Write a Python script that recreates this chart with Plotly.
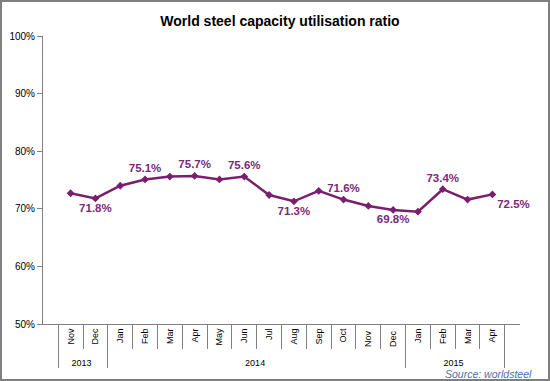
import plotly.graph_objects as go

years = ["2013", "2013"] + ["2014"] * 12 + ["2015"] * 4
months = ["Nov", "Dec", "Jan", "Feb", "Mar", "Apr", "May", "Jun", "Jul", "Aug",
          "Sep", "Oct", "Nov ", "Dec ", "Jan", "Feb", "Mar", "Apr"]
values = [72.7, 71.8, 74.0, 75.1, 75.6, 75.7, 75.1, 75.6, 72.4, 71.3,
          73.1, 71.6, 70.5, 69.8, 69.5, 73.4, 71.6, 72.5]
labels = ["", "71.8%", "", "75.1%", "", "75.7%", "", "75.6%", "", "71.3%",
          "", "71.6%", "", "69.8%", "", "73.4%", "", "72.5%"]
label_pos = ["top center", "bottom center", "top center", "top center", "top center",
             "top center", "top center", "top center", "top center", "bottom center",
             "top center", "top center", "top center", "bottom center", "top center",
             "top center", "top center", "bottom right"]
y_ticks = [50, 60, 70, 80, 90, 100]
y_tick_text = ["50%", "60%", "70%", "80%", "90%", "100%"]

purple = "#7A1F6E"

fig = go.Figure()
fig.add_trace(go.Scatter(
    x=[years, months], y=values,
    mode="lines+markers+text",
    line=dict(color=purple, width=2.5),
    marker=dict(symbol="diamond", size=6, color=purple),
    text=labels, textposition=label_pos,
    textfont=dict(family="Liberation Sans, Arial", size=11.5, color="#7A2A7A", weight="bold"),
    cliponaxis=False,
    hoverinfo="skip",
))

W, H = 550, 381
L, R, T, B = 43, 30, 36, 57
pw, ph = W - L - R, H - T - B
bottom_px = H - B


def px_x(p):
    return (p - L) / pw


def px_y(p):
    return (bottom_px - p) / ph


fig.update_layout(
    width=W, height=H,
    margin=dict(l=L, r=R, t=T, b=B, pad=0, autoexpand=False),
    paper_bgcolor="white", plot_bgcolor="white",
    showlegend=False,
    font=dict(family="Liberation Sans, Arial", size=10, color="#000000"),
    title=dict(text="<b>World steel capacity utilisation ratio</b>",
               x=280 / W, xanchor="center", y=1 - 21 / H, yanchor="middle",
               font=dict(size=14, color="#000000")),
    xaxis=dict(
        type="multicategory", automargin=False,
        showline=True, linecolor="#808080", linewidth=1,
        ticks="outside", tickson="boundaries", ticklen=24, tickcolor="#808080",
        tickangle=-90, tickfont=dict(size=9),
        showdividers=True, dividercolor="#808080", dividerwidth=1,
        showgrid=False, zeroline=False, fixedrange=True,
    ),
    yaxis=dict(
        range=[50, 100], tickvals=y_ticks, ticktext=y_tick_text, automargin=False,
        showline=True, linecolor="#808080", linewidth=1,
        ticks="outside", ticklen=5, tickcolor="#808080",
        showgrid=False, zeroline=False, tickfont=dict(size=10), fixedrange=True,
    ),
    shapes=[dict(
        type="rect", xref="paper", yref="paper",
        x0=px_x(1), x1=px_x(W - 1),
        y0=px_y(H - 1), y1=px_y(1),
        line=dict(color="#7f7f7f", width=2), fillcolor="rgba(0,0,0,0)", layer="below",
    )],
    annotations=[dict(
        text="<i>Source: worldsteel</i>", xref="paper", yref="paper",
        x=px_x(534), xanchor="right", y=px_y(374), yanchor="middle",
        showarrow=False, font=dict(size=10.5, color="#4A6FA5"),
    )],
)

fig.write_html(
    "out.html",
    config={"displayModeBar": False},
    post_script="document.body.style.margin='0';document.body.style.overflow='hidden';",
)
